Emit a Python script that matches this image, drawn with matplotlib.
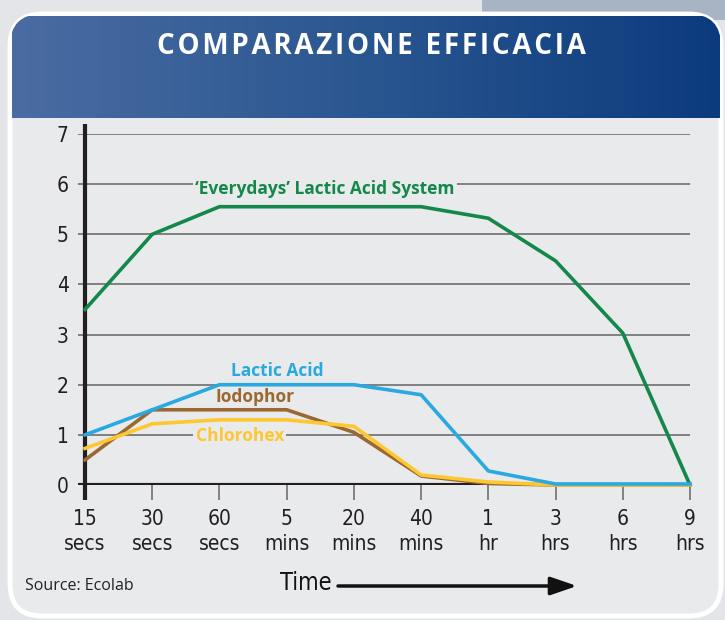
import numpy as np
import matplotlib
matplotlib.use("Agg")
import matplotlib.pyplot as plt
from matplotlib.patches import FancyBboxPatch, Rectangle
from matplotlib.colors import LinearSegmentedColormap

# data
time_labels = ["15\nsecs", "30\nsecs", "60\nsecs", "5\nmins", "20\nmins",
               "40\nmins", "1\nhr", "3\nhrs", "6\nhrs", "9\nhrs"]
everydays = [3.5, 5.0, 5.55, 5.55, 5.55, 5.55, 5.32, 4.47, 3.03, 0.0]
lactic = [1.0, 1.5, 2.0, 2.0, 2.0, 1.8, 0.28, 0.02, 0.02, 0.02]
iodophor = [0.5, 1.5, 1.5, 1.5, 1.05, 0.18, 0.03, 0.0, 0.0, 0.0]
chlorohex = [0.73, 1.22, 1.3, 1.3, 1.17, 0.2, 0.06, 0.0, 0.0, 0.0]
y_ticks = [0, 1, 2, 3, 4, 5, 6, 7]

W, H = 725, 620
narrow = dict(family="DejaVu Sans", stretch="condensed")

fig = plt.figure(figsize=(W / 100, H / 100), dpi=100)
fig.patch.set_facecolor("#e4e5e8")

# background drawing in pixel coords
bg = fig.add_axes([0, 0, 1, 1])
bg.set_xlim(0, W)
bg.set_ylim(H, 0)
bg.axis("off")
bg.add_patch(Rectangle((482, 0), W - 482, 20, facecolor="#a8b3c4", edgecolor="none"))
panel = FancyBboxPatch((10, 14), 711, 602, boxstyle="round,pad=0,rounding_size=32",
                       facecolor="#e9eaec", edgecolor="white", lw=3.5, zorder=1)
bg.add_patch(panel)
grad = np.linspace(0, 1, 256).reshape(1, -1)
cmap = LinearSegmentedColormap.from_list("hdr", ["#4a6ca2", "#2a5690", "#0c3b7d"])
img = bg.imshow(grad, cmap=cmap, extent=(12, 720, 118, 16), aspect="auto", zorder=2)
img.set_clip_path(panel)
bg.set_xlim(0, W)
bg.set_ylim(H, 0)
title = "\u200a".join("COMPARAZIONE EFFICACIA")
bg.text(371, 47, title, color="white", fontsize=20, fontweight="bold", family="Open Sans",
        ha="center", va="center", zorder=3)
bg.text(25, 586, "Source: Ecolab", fontsize=11.5, color="#222222",
        family="Open Sans", ha="left", va="center", zorder=3)
bg.text(306, 583, "Time", fontsize=17, color="#111111", ha="center", va="center",
        zorder=3, **narrow)
bg.annotate("", xy=(577, 586), xytext=(338, 586),
            arrowprops=dict(arrowstyle="-|>,head_length=1.6,head_width=0.55",
                            color="#111111", lw=2.5, shrinkA=0, shrinkB=0), zorder=3)

# chart
x0, x1, yb, yt = 78.3, 690, 485, 134
ax = fig.add_axes([x0 / W, (H - yb) / H, (x1 - x0) / W, (yb - yt) / H])
ax.set_facecolor("none")
ax.set_xlim(-0.1, 9)
ax.set_ylim(0, 7)
for s in ax.spines.values():
    s.set_visible(False)

x = np.arange(len(time_labels))
ax.hlines(y_ticks[1:], -0.1, 9, color="#6e6e6e", lw=1.2, zorder=1)
ax.plot([-0.15, 9], [0, 0], color="#231f20", lw=3, zorder=2, solid_capstyle="butt")
ax.plot([0, 0], [-0.3, 7.2], color="#231f20", lw=3, zorder=2, clip_on=False,
        solid_capstyle="butt")

ax.plot(x, everydays, color="#13884a", lw=2.6, zorder=3, clip_on=False)
ax.plot(x, iodophor, color="#9a6830", lw=2.6, zorder=4, clip_on=False)
ax.plot(x, chlorohex, color="#fdc731", lw=2.6, zorder=5, clip_on=False)
ax.plot(x, lactic, color="#2aa9e0", lw=2.6, zorder=6, clip_on=False)

box = dict(facecolor="#e9eaec", edgecolor="none", pad=1.5)
lbl = dict(family="Open Sans", fontweight="bold", fontsize=12.5, ha="center",
           va="center", zorder=7)
ax.text(3.57, 5.9, "\u2018Everydays\u2019 Lactic Acid System", color="#13884a", bbox=box, **lbl)
ax.text(2.86, 2.28, "Lactic Acid", color="#2aa9e0", **lbl)
ax.text(2.53, 1.76, "Iodophor", color="#9a6830", **lbl)
ax.text(2.3, 0.97, "Chlorohex", color="#fdc731", bbox=box, **lbl)

ax.set_xticks(x)
ax.set_xticklabels(time_labels, fontsize=15, color="#231f20", linespacing=1.35, **narrow)
ax.tick_params(axis="x", length=11, width=1.3, color="#7a7a7a", pad=6)
ax.set_yticks(y_ticks)
ax.set_yticklabels([str(v) for v in y_ticks], fontsize=15, color="#231f20", **narrow)
ax.tick_params(axis="y", length=0, pad=7)

fig.savefig("out.png", dpi=100, facecolor=fig.get_facecolor())
